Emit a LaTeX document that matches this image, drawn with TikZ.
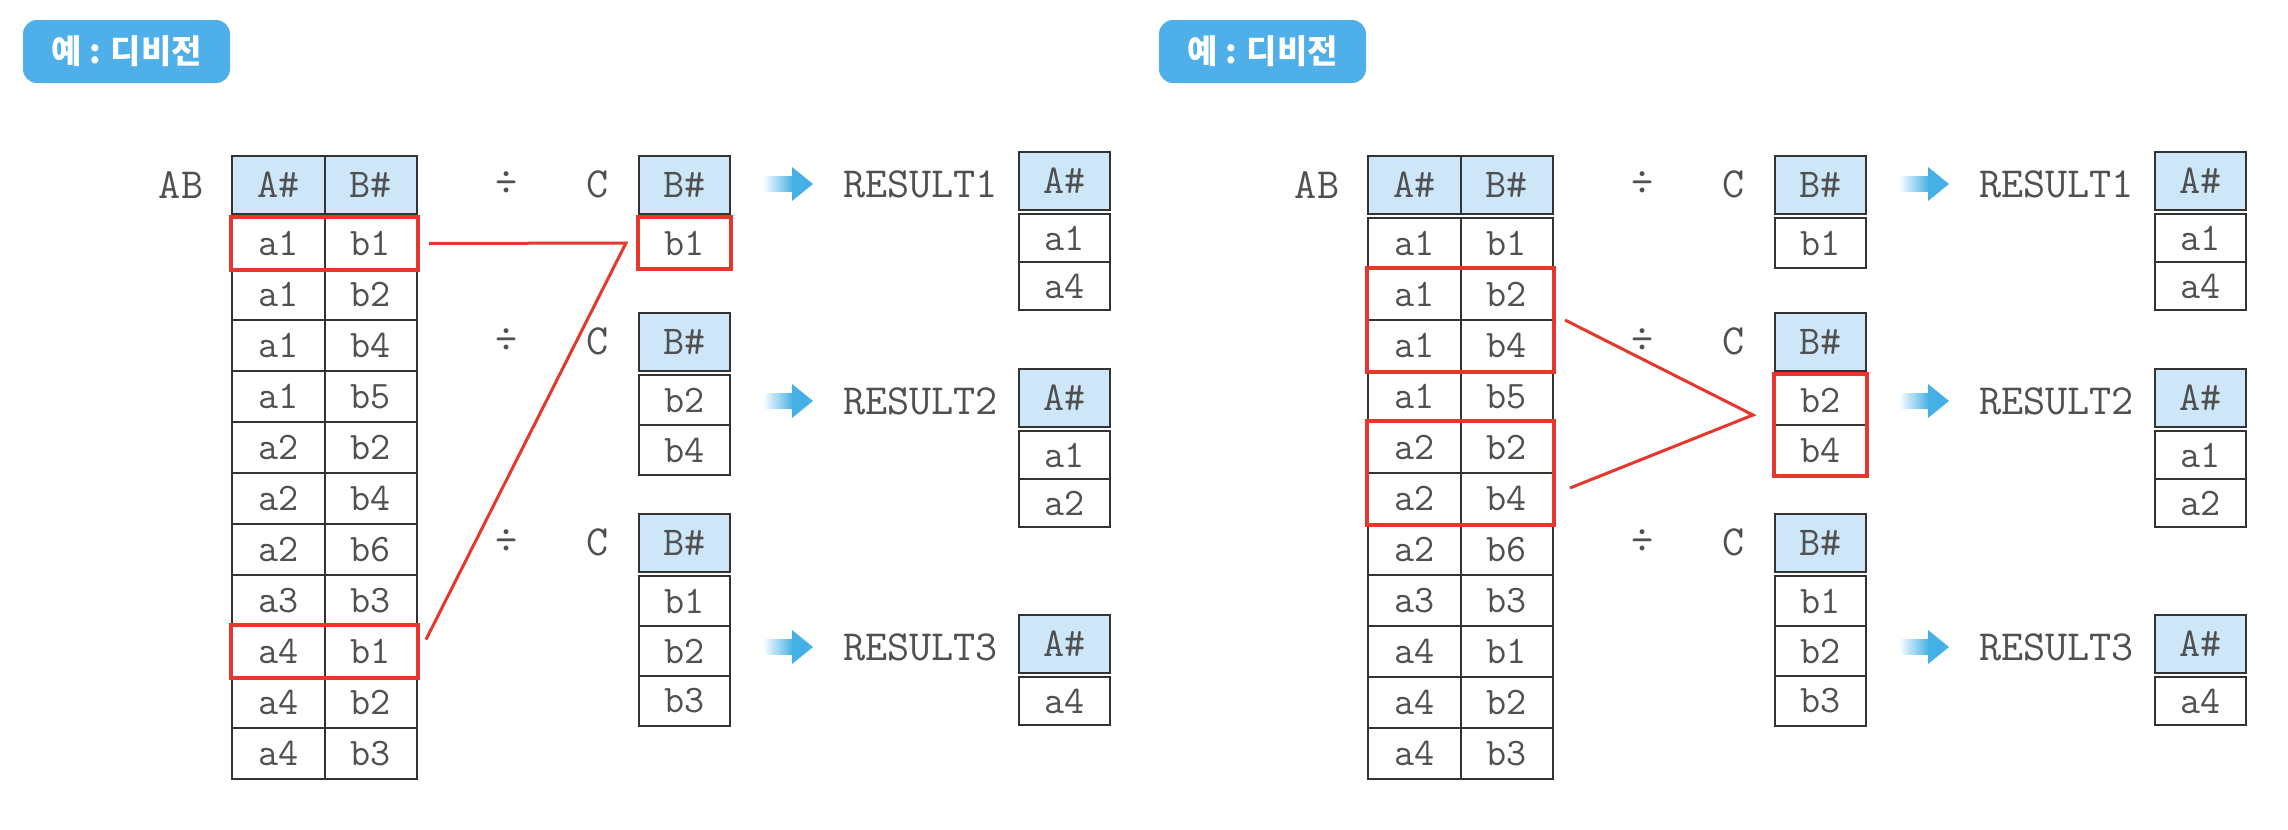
\documentclass[tikz,border=0pt]{standalone}
\usepackage{fontspec}
\newfontfamily\krfont{Noto Sans CJK KR}
\usetikzlibrary{positioning, fit}

\definecolor{DivHeader}{HTML}{CDE7F8}
\definecolor{DivBadge}{HTML}{4FAFE8}
\definecolor{DivArrow}{HTML}{45B0E6}
\definecolor{DivRed}{HTML}{E5372B}
\definecolor{DivLine}{HTML}{333333}
\definecolor{DivText}{HTML}{505050}

\begin{document}
\begin{tikzpicture}[x=0.5pt, y=-0.5pt,
    hdr/.style={draw=DivLine, line width=1pt, fill=DivHeader, anchor=north west,
      minimum width=46pt, minimum height=29pt, inner sep=0pt, text=DivText,
      font=\fontsize{20.5}{20.5}\selectfont\ttfamily},
    cell/.style={draw=DivLine, line width=1pt, fill=white, anchor=north west,
      minimum width=46pt, minimum height=25.5pt, inner sep=0pt, text=DivText,
      font=\fontsize{19.5}{19.5}\selectfont\ttfamily},
    lbl/.style={inner sep=0pt, text=DivText, font=\fontsize{21.5}{21.5}\selectfont\ttfamily},
    badge/.style={fill=DivBadge, rounded corners=7pt, minimum width=103.5pt,
      minimum height=31.5pt, inner sep=0pt, text=white,
      font=\krfont\bfseries\fontsize{16.5}{16.5}\selectfont},
    redbox/.style={draw=DivRed, line width=2pt, inner sep=0pt},
    redline/.style={draw=DivRed, line width=1.5pt}]

  \useasboundingbox (0,0) rectangle (2288,830);

  \foreach \p/\dx in {L/0, R/568} {
    \begin{scope}[xshift=\dx pt]
      % Example badge
      \node[badge] (\p-badge) at (126.5,51.5) {예 : 디비전};

      % Dividend AB
      \node[lbl] (\p-ab) at (181,185) {AB};
      \node[hdr, minimum width=46.25pt] (\p-ab-ha) at (231,155) {A\#};
      \node[hdr, minimum width=46.25pt] (\p-ab-hb) at (323.5,155) {B\#};
      \foreach \va/\vb [count=\i] in {a1/b1, a1/b2, a1/b4, a1/b5, a2/b2, a2/b4,
          a2/b6, a3/b3, a4/b1, a4/b2, a4/b3} {
        \node[cell, minimum width=46.25pt] (\p-ab-a-\i) at (231,{217+(\i-1)*51}) {\va};
        \node[cell, minimum width=46.25pt] (\p-ab-b-\i) at (323.5,{217+(\i-1)*51}) {\vb};
      }

      % Divisors C and results
      \foreach \k/\ct/\rt/\bs/\as in {1/155/151/{b1}/{a1,a4},
          2/312/368/{b2,b4}/{a1,a2}, 3/513/614/{b1,b2,b3}/{a4}} {
        \node[lbl] (\p-div-\k) at (507,\ct+29) {÷};
        \node[lbl] (\p-c-\k) at (598,\ct+29) {C};
        \node[hdr, minimum width=45.5pt] (\p-c\k-h) at (638,\ct) {B\#};
        \foreach \v [count=\i] in \bs
          \node[cell, minimum width=45.5pt, minimum height=25pt] (\p-c\k-\i) at (638,{\ct+62+(\i-1)*50}) {\v};

        % blue arrow
        \shade[left color=DivArrow!8, right color=DivArrow] (765,\rt+25.5) rectangle (793,\rt+40.5);
        \fill[DivArrow] (792,\rt+16) -- (813,\rt+33) -- (792,\rt+50) -- cycle;

        \node[lbl] (\p-res-\k) at (920.5,\rt+33) {RESULT\k};
        \node[hdr, minimum width=45.5pt] (\p-r\k-h) at (1018,\rt) {A\#};
        \foreach \v [count=\i] in \as
          \node[cell, minimum width=45.5pt, minimum height=24pt] (\p-r\k-\i) at (1018,{\rt+62+(\i-1)*48}) {\v};
      }
    \end{scope}
  }

  % Left: rows matching b1
  \node[redbox, fit=(L-ab-a-1) (L-ab-b-1)] (L-hl-a) {};
  \node[redbox, fit=(L-ab-a-9) (L-ab-b-9)] (L-hl-b) {};
  \node[redbox, fit=(L-c1-1)] (L-hl-c) {};
  \coordinate (L-apex) at ([xshift=-5pt]L-hl-c.west);
  \draw[redline] ([xshift=4.5pt]L-hl-a.east) -- (L-apex) -- ([xshift=3pt, yshift=6pt]L-hl-b.east);

  % Right: rows matching b2, b4
  \node[redbox, fit=(R-ab-a-2) (R-ab-b-3)] (R-hl-a) {};
  \node[redbox, fit=(R-ab-a-5) (R-ab-b-6)] (R-hl-b) {};
  \node[redbox, fit=(R-c2-1) (R-c2-2)] (R-hl-c) {};
  \coordinate (R-apex) at ([xshift=-9.5pt, yshift=5pt]R-hl-c.west);
  \draw[redline] ([xshift=4.5pt]R-hl-a.east) -- (R-apex) -- ([xshift=7pt, yshift=-7.5pt]R-hl-b.east);
\end{tikzpicture}
\end{document}
